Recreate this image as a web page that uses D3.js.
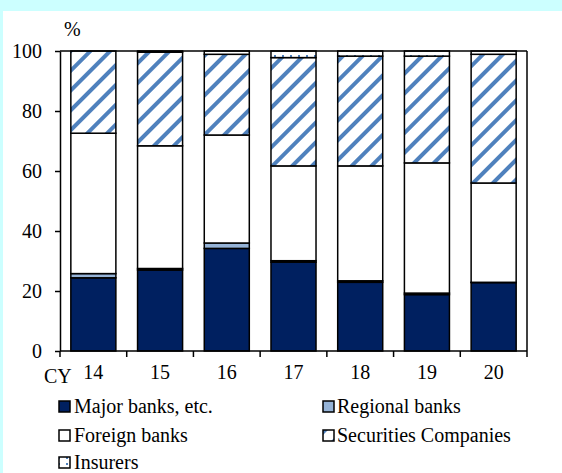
<!DOCTYPE html>
<html>
<head>
<meta charset="utf-8">
<script src="https://cdn.jsdelivr.net/npm/d3@7"></script>
<style>
  html, body { margin: 0; padding: 0; background: #ccffff; }
  svg { display: block; }
</style>
</head>
<body>
<svg id="chart" width="562" height="473"></svg>
<script>
// ---- Data ----
const categories = ["14", "15", "16", "17", "18", "19", "20"];
const seriesNames = ["Major banks, etc.", "Regional banks", "Foreign banks", "Securities Companies", "Insurers"];
const majorBanks    = [24.4, 27.0, 34.2, 29.6, 22.9, 18.8, 22.8];
const regionalBanks = [1.4, 0.5, 1.8, 0.5, 0.5, 0.5, 0.1];
const foreignBanks  = [46.8, 40.9, 36.0, 31.6, 38.3, 43.4, 33.1];
const securities    = [27.4, 31.2, 26.9, 36.1, 36.6, 35.6, 42.9];
const insurers      = [0.0, 0.4, 1.1, 2.2, 1.7, 1.7, 1.1];
const yTicks = [0, 20, 40, 60, 80, 100];

const seriesValues = [majorBanks, regionalBanks, foreignBanks, securities, insurers];
const table = categories.map((c, i) => {
  const row = { cat: c };
  seriesNames.forEach((s, k) => row[s] = seriesValues[k][i]);
  return row;
});

(function () {
const FONT = "Liberation Serif";
const svg = d3.select("#chart");
const W = 562, H = 473;

// background panel
svg.append("rect").attr("x", 0).attr("y", 0).attr("width", W).attr("height", H).attr("fill", "#ccffff");
svg.append("rect").attr("x", 3).attr("y", 11).attr("width", W - 3).attr("height", H - 11).attr("fill", "#ffffff");

// patterns
const defs = svg.append("defs");
const hatch = defs.append("pattern").attr("id", "hatch")
  .attr("patternUnits", "userSpaceOnUse").attr("width", 14).attr("height", 14)
  .attr("patternTransform", "rotate(45)");
hatch.append("rect").attr("width", 14).attr("height", 14).attr("fill", "#fff");
hatch.append("rect").attr("x", 0).attr("y", 0).attr("width", 4).attr("height", 14).attr("fill", "#4f81bd");

const dots = defs.append("pattern").attr("id", "dots")
  .attr("patternUnits", "userSpaceOnUse").attr("width", 8).attr("height", 6);
dots.append("rect").attr("width", 8).attr("height", 6).attr("fill", "#fff");
dots.append("rect").attr("x", 2).attr("y", 1).attr("width", 2).attr("height", 2).attr("fill", "#4f81bd");

const fills = ["#002060", "#95b3d7", "#ffffff", "url(#hatch)", "url(#dots)"];

// scales
const pLeft = 60, pRight = 527, pTop = 51, pBottom = 351;
const x = d3.scaleBand().domain(categories).range([pLeft, pRight])
  .paddingInner(0.325).paddingOuter(0.1625);
const y = d3.scaleLinear().domain([0, 100]).range([pBottom, pTop]);

const stack = d3.stack().keys(seriesNames)(table);

// bars
svg.append("g").selectAll("g").data(stack).join("g")
  .attr("fill", (d, i) => fills[i])
  .selectAll("rect").data(d => d).join("rect")
  .attr("x", d => x(d.data.cat))
  .attr("width", x.bandwidth())
  .attr("y", d => y(d[1]))
  .attr("height", d => y(d[0]) - y(d[1]))
  .attr("stroke", "#000").attr("stroke-width", 1.5);

// frame top & right
svg.append("line").attr("x1", pLeft).attr("x2", pRight).attr("y1", pTop).attr("y2", pTop)
  .attr("stroke", "#000").attr("stroke-width", 1.5);
svg.append("line").attr("x1", pRight).attr("x2", pRight).attr("y1", pTop).attr("y2", pBottom)
  .attr("stroke", "#000").attr("stroke-width", 1.5);

// y axis
const yAxis = svg.append("g").attr("transform", `translate(${pLeft},0)`)
  .call(d3.axisLeft(y).tickValues(yTicks).tickSize(5).tickPadding(13).tickSizeOuter(0));
yAxis.attr("font-family", FONT).attr("font-size", 20);
yAxis.select(".domain").attr("stroke", "#000").attr("stroke-width", 1.5);
yAxis.selectAll(".tick line").attr("stroke", "#000").attr("stroke-width", 1.5);
yAxis.selectAll(".tick text").attr("font-family", FONT).attr("font-size", 20).attr("fill", "#000");

// x axis with boundary ticks
const xAxis = svg.append("g").attr("transform", `translate(0,${pBottom})`)
  .call(d3.axisBottom(x).tickSize(0).tickPadding(14));
xAxis.attr("font-family", FONT).attr("font-size", 20);
xAxis.select(".domain").attr("d", `M${pLeft},0H${pRight}`).attr("stroke", "#000").attr("stroke-width", 1.5);
xAxis.selectAll(".tick text").attr("font-family", FONT).attr("font-size", 20).attr("fill", "#000");
const bounds = categories.map(c => x(c) - x.step() * x.paddingInner() / 2).concat([pRight]);
xAxis.selectAll(".bnd").data(bounds).join("line").attr("class", "bnd")
  .attr("x1", d => d).attr("x2", d => d).attr("y1", 0).attr("y2", 6)
  .attr("stroke", "#000").attr("stroke-width", 1.5);

// labels
svg.append("text").attr("x", 64).attr("y", 36).attr("font-family", FONT).attr("font-size", 20).text("%");
svg.append("text").attr("x", 44).attr("y", 383).attr("font-family", FONT).attr("font-size", 20).text("CY");

// legend
const legendPos = [
  { sx: 59, tx: 74, by: 413 },
  { sx: 323, tx: 337, by: 413 },
  { sx: 59, tx: 74, by: 442 },
  { sx: 323, tx: 337, by: 442 },
  { sx: 59, tx: 74, by: 469 }
];
const lg = svg.append("g").selectAll("g").data(seriesNames).join("g");
lg.append("rect")
  .attr("x", (d, i) => legendPos[i].sx).attr("y", (d, i) => legendPos[i].by - 12)
  .attr("width", 11).attr("height", 11)
  .attr("fill", (d, i) => fills[i]).attr("stroke", "#000").attr("stroke-width", 1.5);
lg.append("text")
  .attr("x", (d, i) => legendPos[i].tx).attr("y", (d, i) => legendPos[i].by)
  .attr("font-family", FONT).attr("font-size", 20).attr("fill", "#000").text(d => d);
})();
</script>
</body>
</html>
